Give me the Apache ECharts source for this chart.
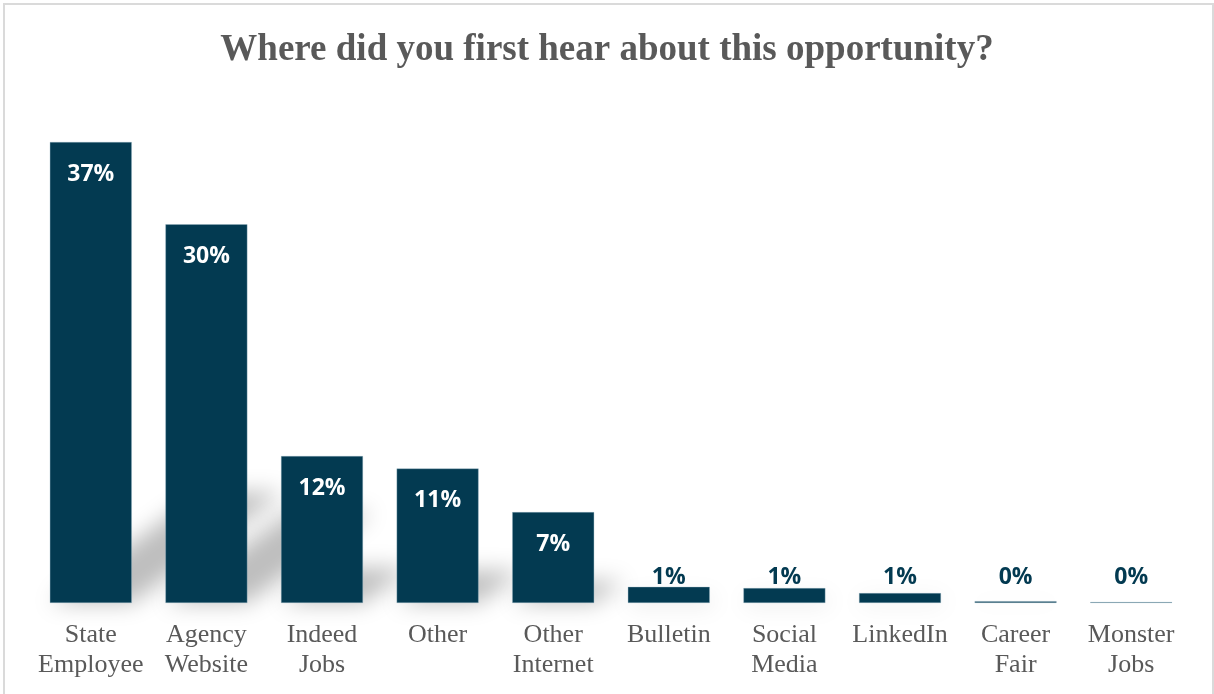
<!DOCTYPE html>
<html>
<head>
<meta charset="utf-8">
<title>Where did you first hear about this opportunity?</title>
<script src="https://cdn.jsdelivr.net/npm/echarts@6/dist/echarts.min.js"></script>
<style>
  html, body { margin: 0; padding: 0; background: #ffffff; }
  #chart { position: absolute; left: 0; top: 0; width: 1214px; height: 694px; }
  #frame { position: absolute; left: 3px; top: 3px; width: 1207px; height: 720px;
           border: 2px solid #dadada; pointer-events: none; }
</style>
</head>
<body>
<div id="chart"></div>
<div id="frame"></div>
<script>
// Survey responses: share of respondents by source (%)
const categories = [
  'State\nEmployee', 'Agency\nWebsite', 'Indeed\nJobs', 'Other', 'Other\nInternet',
  'Bulletin', 'Social\nMedia', 'LinkedIn', 'Career\nFair', 'Monster\nJobs'
];
const shares = [37.0, 30.4, 11.8, 10.8, 7.3, 1.3, 1.2, 0.8, 0.15, 0.08];

const BAR_COLOR = '#033a51';
const TEXT_GRAY = '#595959';
const BAR_RATIO = 0.71;
const SHIFT = 4000; // shape drawn off-canvas so only its blurred shadow shows

const chart = echarts.init(document.getElementById('chart'), null, { renderer: 'canvas' });

// Bars tall enough hold their label inside; short ones get it above the base
const barData = shares.map(v => ({
  value: v,
  label: v >= 5
    ? { position: 'insideTop', distance: 21, color: '#ffffff' }
    : { position: 'insideBottom', distance: 14, color: BAR_COLOR }
}));

// Soft slanted cast shadow behind each bar
function renderShadow(params, api) {
  const idx = api.value(0);
  const val = api.value(1);
  const base = api.coord([idx, 0]);
  const top = api.coord([idx, val]);
  const w = api.size([1, 0])[0] * BAR_RATIO;
  const h = base[1] - top[1];
  const sh = h * 0.24;
  const dx = h * 0.33;
  const x0 = base[0] - w / 2 - SHIFT, x1 = base[0] + w / 2 - SHIFT, y0 = base[1];
  return {
    type: 'polygon',
    shape: { points: [[x0, y0], [x1, y0], [x1 + dx, y0 - sh], [x0 + dx, y0 - sh]] },
    style: {
      fill: '#000000',
      shadowBlur: 22,
      shadowOffsetX: SHIFT,
      shadowColor: 'rgba(0,0,0,0.26)'
    },
    culling: false
  };
}

chart.setOption({
  animation: false,
  backgroundColor: '#ffffff',
  title: {
    text: 'Where did you first hear about this opportunity?',
    left: 'center',
    top: 27,
    textStyle: {
      fontFamily: '"Liberation Serif", "Times New Roman", serif',
      fontWeight: 'bold',
      fontSize: 37,
      color: TEXT_GRAY
    }
  },
  grid: { left: 33, right: 25, top: 104.6, bottom: 91, containLabel: false },
  xAxis: {
    type: 'category',
    data: categories,
    axisLine: { show: false },
    axisTick: { show: false },
    axisLabel: {
      interval: 0,
      margin: 17,
      fontFamily: '"Liberation Serif", "Times New Roman", serif',
      fontSize: 26,
      lineHeight: 30,
      color: TEXT_GRAY
    }
  },
  yAxis: {
    type: 'value',
    min: 0,
    max: 40,
    show: false,
    splitLine: { show: false }
  },
  series: [
    {
      type: 'custom',
      renderItem: renderShadow,
      data: shares.map((v, i) => [i, v]),
      encode: { x: 0, y: 1 },
      clip: false,
      z: 1,
      silent: true
    },
    {
      type: 'bar',
      data: barData,
      barWidth: (BAR_RATIO * 100) + '%',
      z: 2,
      itemStyle: {
        color: BAR_COLOR,
        borderColor: 'rgba(150,180,195,0.6)',
        borderWidth: 0.6
      },
      label: {
        show: true,
        fontFamily: '"Open Sans", "Noto Sans", sans-serif',
        fontWeight: 'bold',
        fontSize: 23,
        formatter: p => Math.round(p.value) + '%'
      }
    }
  ]
});
</script>
</body>
</html>
